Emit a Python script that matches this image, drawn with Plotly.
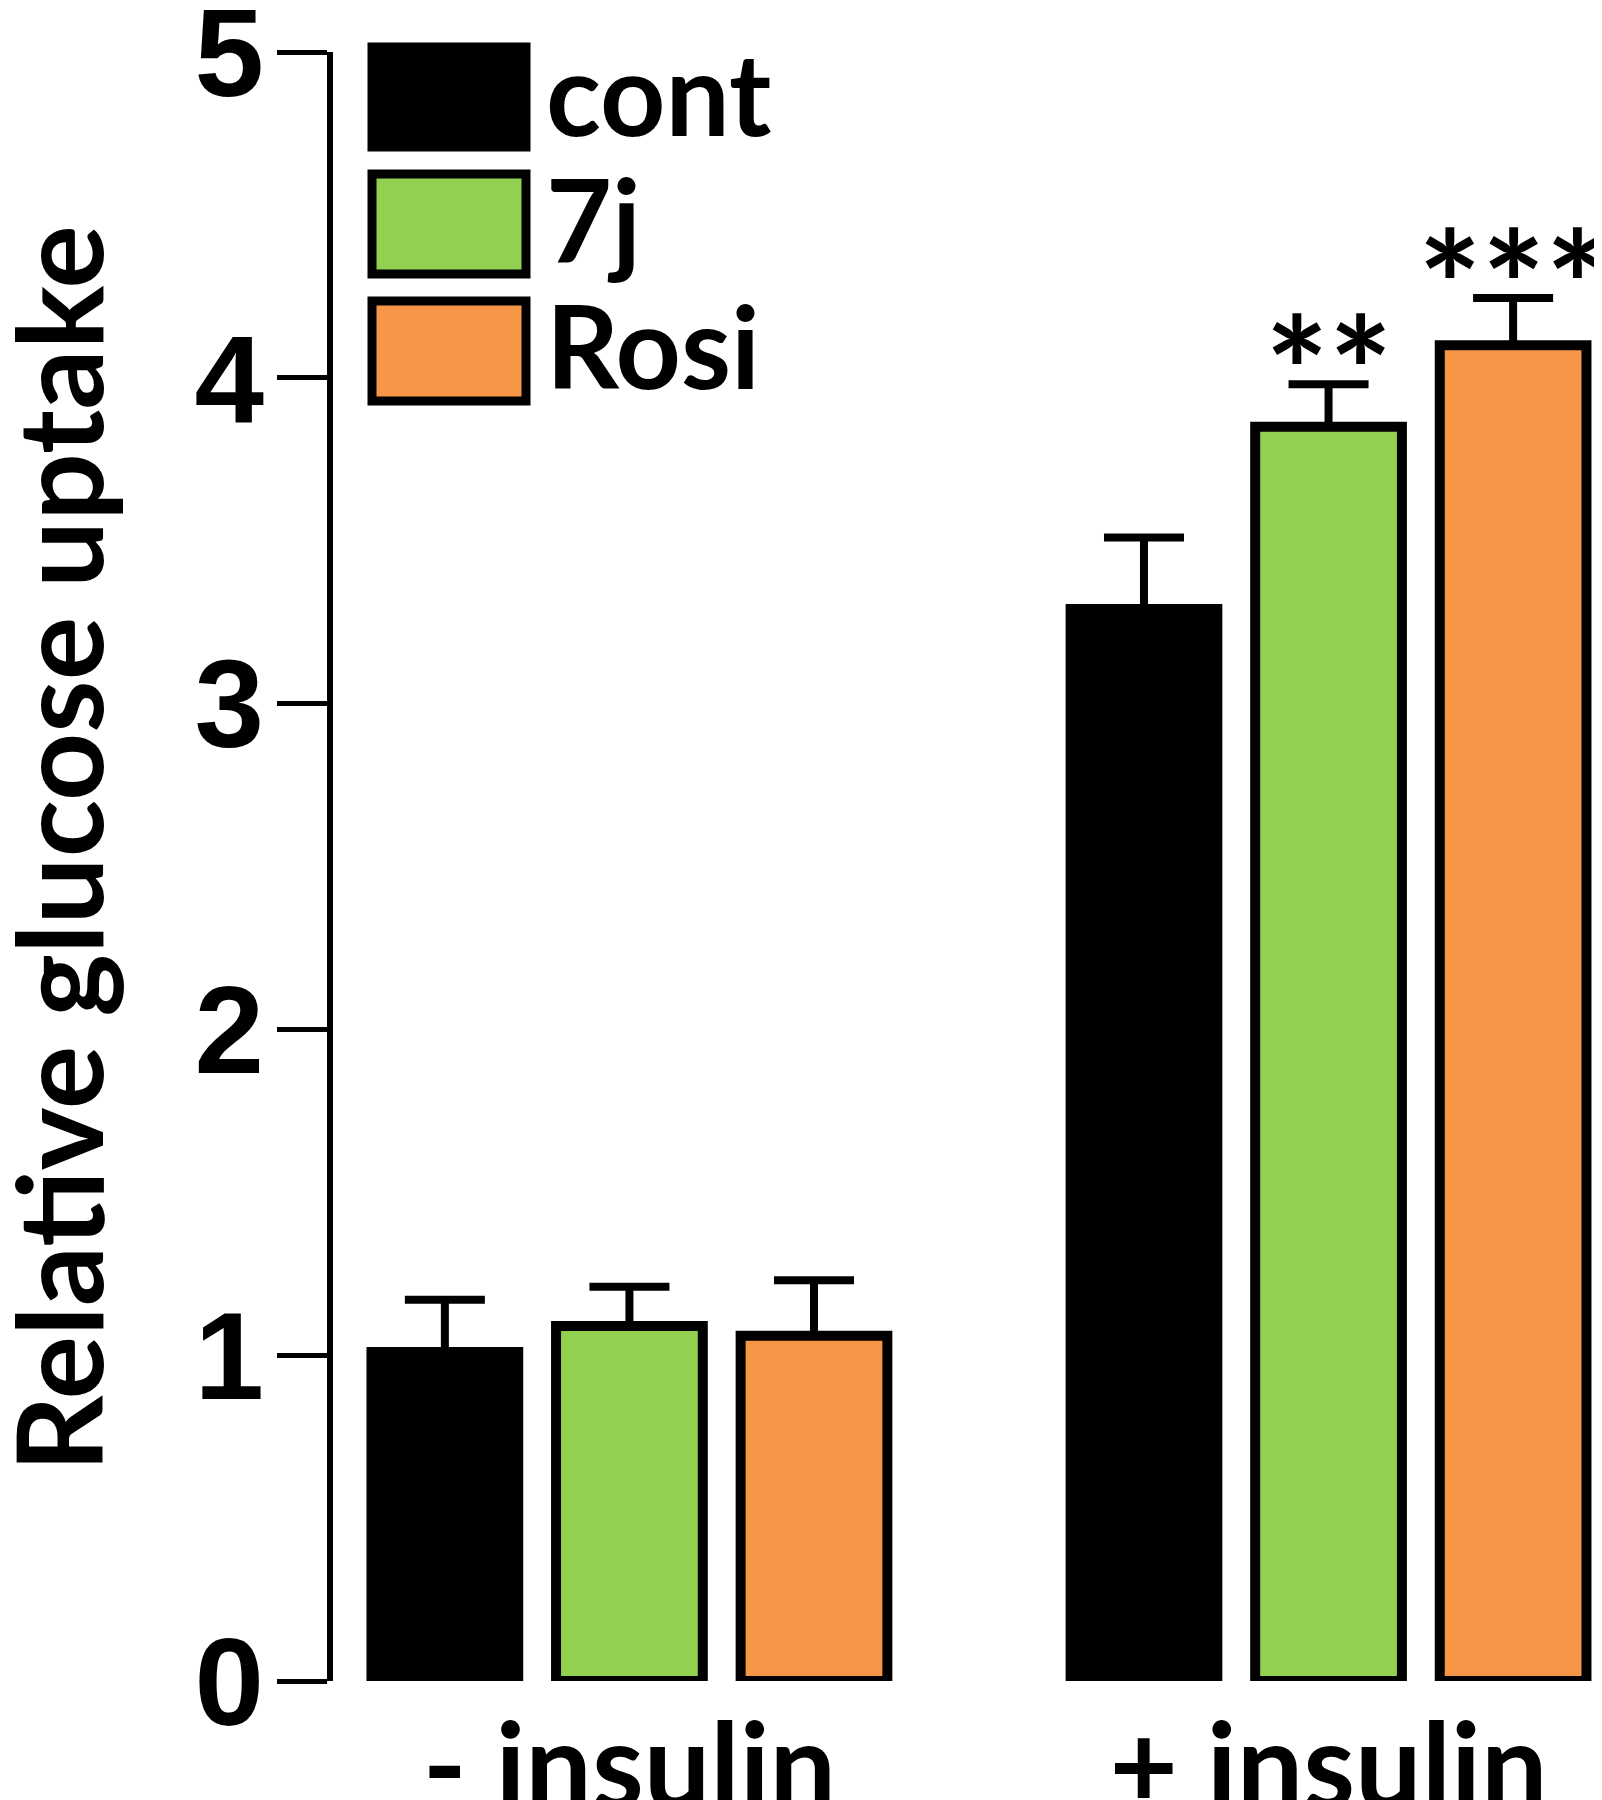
import plotly.graph_objects as go

# ---------------- data ----------------
categories = ["- insulin", "+ insulin"]
series_names = ["cont", "7j", "Rosi"]
series_colors = ["#000000", "#92D050", "#F79646"]
cont_vals = [1.01, 3.29]
cont_err = [0.16, 0.22]
j7_vals = [1.09, 3.85]
j7_err = [0.12, 0.13]
rosi_vals = [1.06, 4.10]
rosi_err = [0.17, 0.145]
j7_sig = ["", "**"]
rosi_sig = ["", "***"]
y_ticks = [0, 1, 2, 3, 4, 5]
y_title = "Relative glucose uptake"

values = [cont_vals, j7_vals, rosi_vals]
errors = [cont_err, j7_err, rosi_err]
sigs = [["", ""], j7_sig, rosi_sig]

# ---------------- layout constants ----------------
W, H = 1602, 1800
ML, MR, MT, MB = 325, 6, 44, 127
PW, PH = W - ML - MR, H - MT - MB
BARGAP = 0.208
BARGROUPGAP = 0.205
n_series = len(series_names)
slot = (1 - BARGAP) / n_series

TEXT_FONT = "Lato"
NUM_FONT = "Liberation Sans, Arial, sans-serif"


def px_x(px):
    return (px - ML) / PW


def px_y(py):
    return (H - MB - py) / PH


fig = go.Figure()
for i, name in enumerate(series_names):
    fig.add_trace(go.Bar(
        x=categories,
        y=values[i],
        name=name,
        marker=dict(color=series_colors[i], line=dict(color="#000000", width=10)),
        error_y=dict(type="data", array=errors[i], arrayminus=[0] * len(categories),
                     symmetric=False, color="#000000", thickness=8, width=40),
        showlegend=False,
    ))

annotations = []
# significance stars
for i in range(n_series):
    for g in range(len(categories)):
        if sigs[i][g]:
            annotations.append(dict(
                x=g + (i - (n_series - 1) / 2) * slot,
                y=values[i][g] + errors[i][g],
                xref="x", yref="y", text=sigs[i][g], showarrow=False,
                yanchor="bottom", yshift=-77,
                font=dict(family=TEXT_FONT, size=150, color="#000000", weight="bold"),
            ))

# y-axis title
annotations.append(dict(
    x=px_x(49), y=px_y(841), xref="paper", yref="paper", text=y_title,
    textangle=-90, showarrow=False, xanchor="center", yanchor="middle",
    font=dict(family=TEXT_FONT, size=119, color="#000000", weight="bold"),
))

# manual legend
shapes = []
LEG_X0, LEG_X1 = 364, 518
LEG_Y0, LEG_H, LEG_PITCH = 89, 100, 127
for i, name in enumerate(series_names):
    cy = LEG_Y0 + i * LEG_PITCH
    shapes.append(dict(
        type="rect", xref="paper", yref="paper",
        x0=px_x(LEG_X0), x1=px_x(LEG_X1),
        y0=px_y(cy + LEG_H / 2), y1=px_y(cy - LEG_H / 2),
        fillcolor=series_colors[i], line=dict(color="#000000", width=9),
    ))
    annotations.append(dict(
        x=px_x(536), y=px_y(cy), xref="paper", yref="paper", text=name,
        showarrow=False, xanchor="left", yanchor="middle", yshift=6,
        font=dict(family=TEXT_FONT, size=114, color="#000000", weight="bold"),
    ))

fig.update_layout(
    width=W, height=H,
    margin=dict(l=ML, r=MR, t=MT, b=MB, autoexpand=False),
    paper_bgcolor="white", plot_bgcolor="white",
    barmode="group", bargap=BARGAP, bargroupgap=BARGROUPGAP,
    annotations=annotations, shapes=shapes,
    xaxis=dict(
        type="category", range=[-0.424, 1.394], showline=False, showgrid=False,
        zeroline=False, ticks="", ticklabelstandoff=8,
        tickfont=dict(family=TEXT_FONT, size=118, color="#000000", weight="bold"),
    ),
    yaxis=dict(
        range=[0, 5], tickvals=y_ticks, ticktext=[str(v) for v in y_ticks],
        showline=True, linecolor="#000000", linewidth=6,
        ticks="outside", ticklen=50, tickwidth=5, tickcolor="#000000",
        showgrid=False, zeroline=False, ticklabelstandoff=-12,
        ticklabeloverflow="allow",
        tickfont=dict(family=NUM_FONT, size=125, color="#000000", weight="bold"),
    ),
)

fig.write_html("out.html")
